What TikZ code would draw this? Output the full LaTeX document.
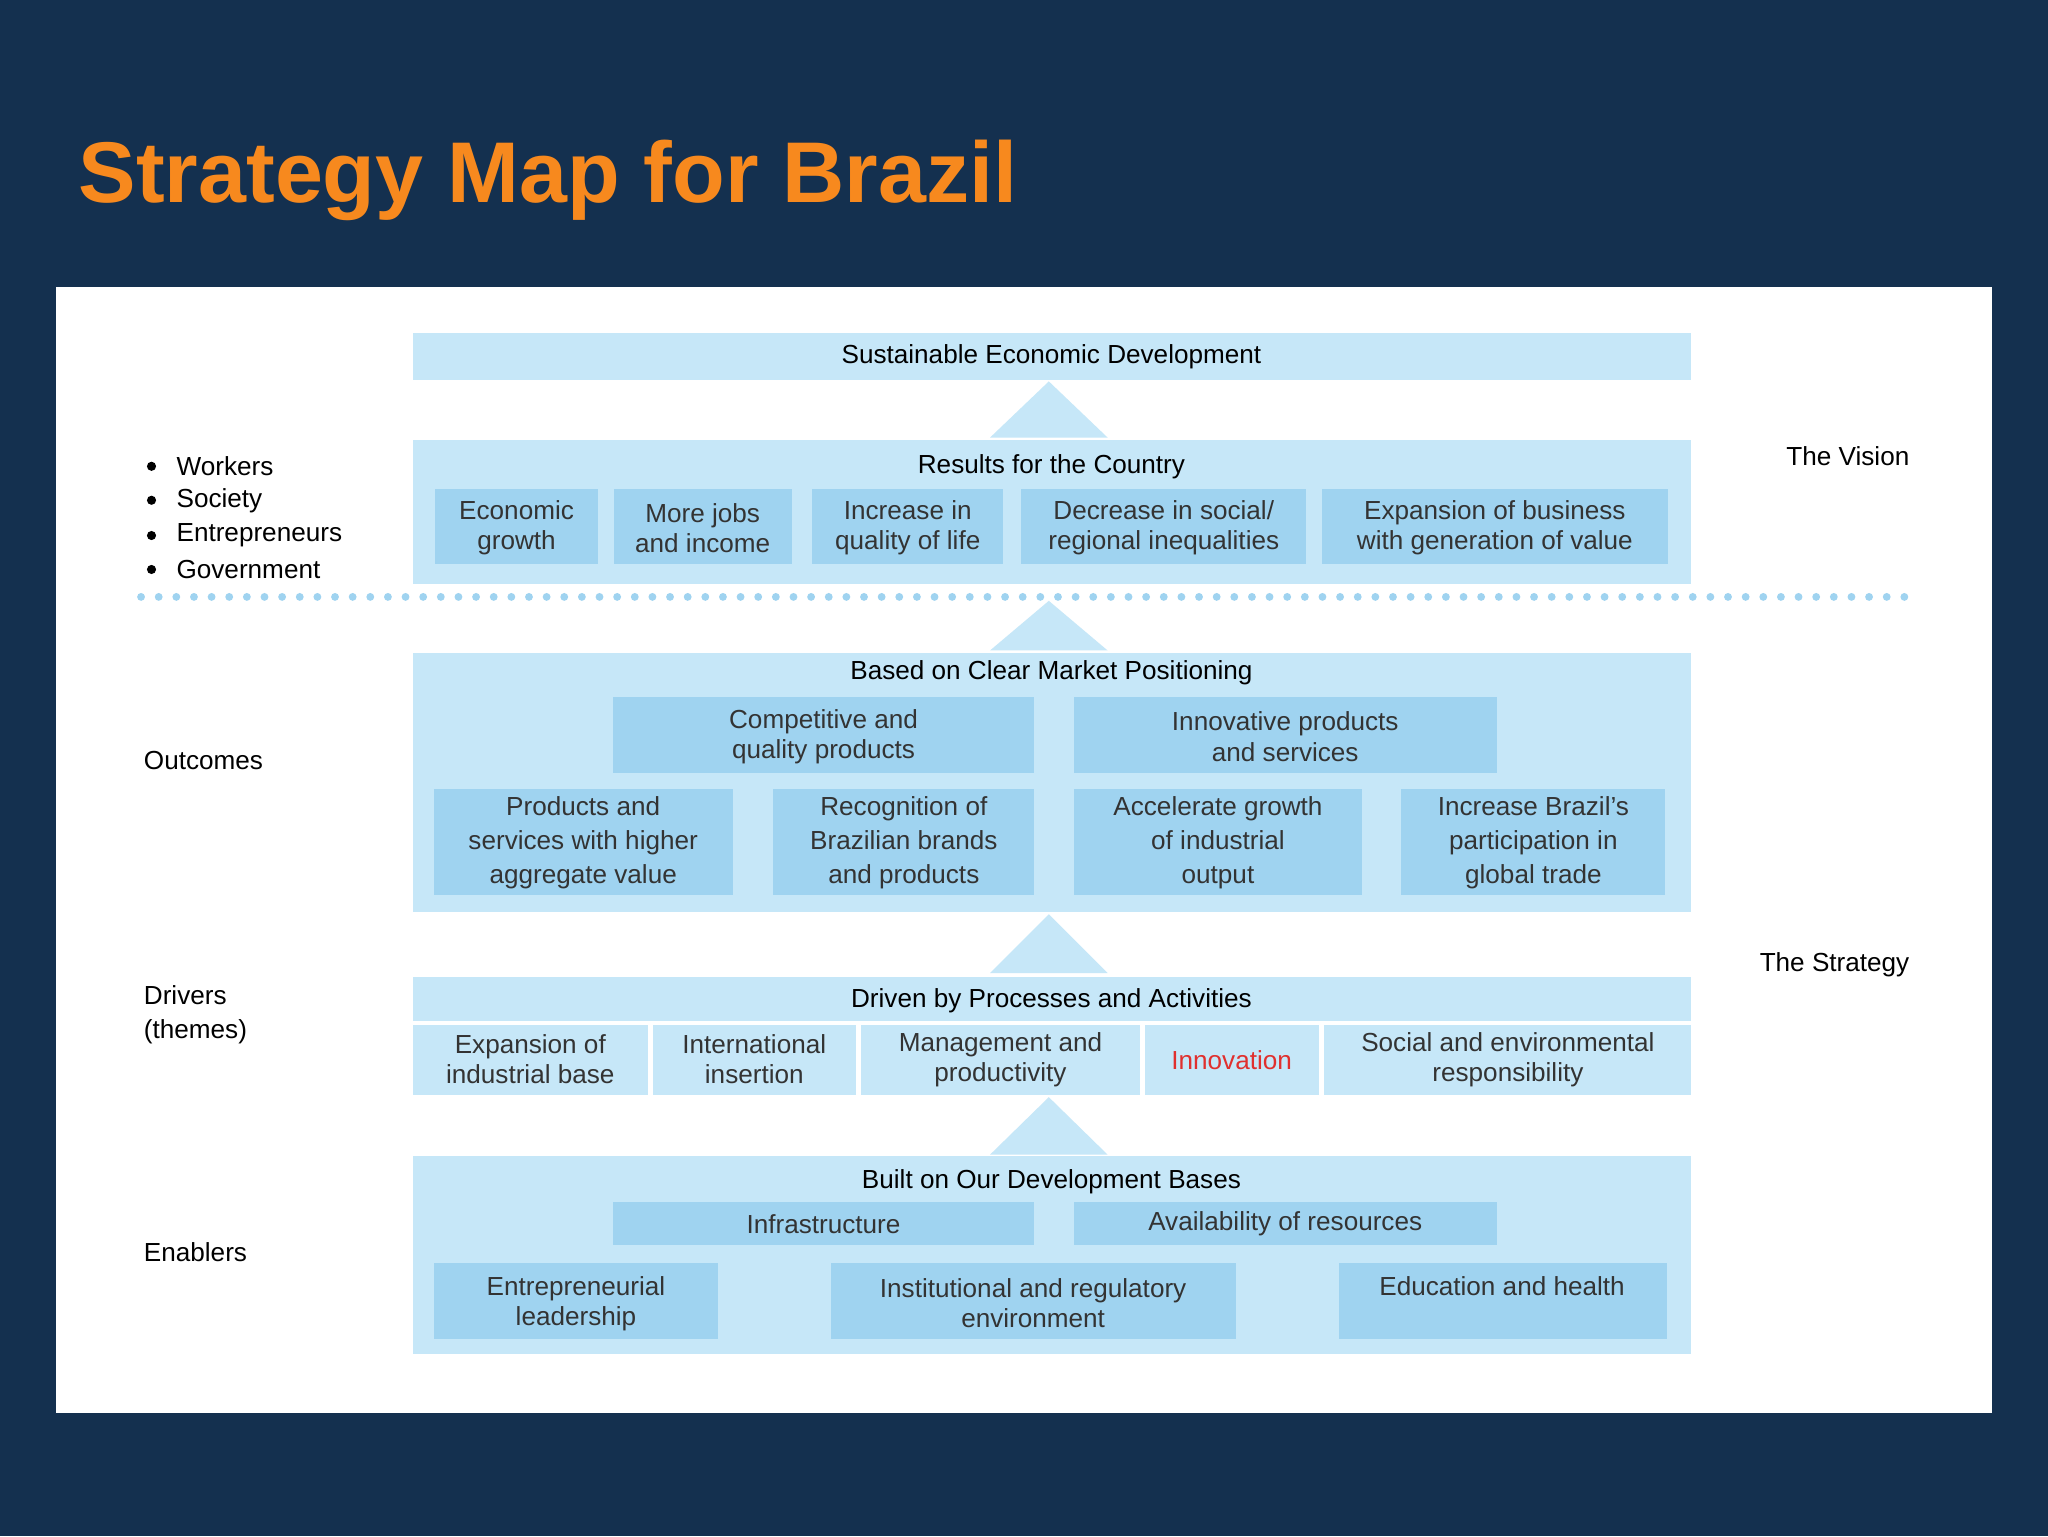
\documentclass[tikz,border=0pt]{standalone}
\usepackage{fontspec}
\setmainfont{Liberation Sans}
\definecolor{bg}{HTML}{14304F}
\definecolor{ttl}{HTML}{F7891E}
\definecolor{pan}{HTML}{C6E7F8}
\definecolor{inb}{HTML}{9FD3F0}
\definecolor{txt}{HTML}{333333}
\definecolor{red1}{HTML}{E0302E}
\begin{document}
\begin{tikzpicture}[x=1pt,y=-1pt,
  panel/.style={fill=pan,draw=none},
  cell/.style={fill=inb,draw=none},
  lbl/.style={font=\fontsize{20}{23}\selectfont,text=txt,align=center,inner sep=0},
  hd/.style={font=\fontsize{20}{23}\selectfont,text=black,inner sep=0},
  side/.style={font=\fontsize{20}{26}\selectfont,text=black,anchor=west,align=left,inner sep=0},
  uparrow/.style={fill=pan,draw=none}]
\useasboundingbox (0,0) rectangle (1568,1176);
\fill[bg] (0,0) rectangle (1568,1176);
\node[anchor=west,font=\fontsize{66}{70}\selectfont\bfseries,text=ttl,inner sep=0] (title) at (60,138) {Strategy Map for Brazil};
\fill[white] (43,220) rectangle (1525,1082);
% arrows
\foreach \t/\b in {292/335,460/498,700/745,840/884}{
  \fill[pan] (758,\b) -- (803,\t) -- (848,\b) -- cycle;}
% top bar
\fill[panel] (316,255) rectangle (1295,291);
\node[hd] (sed) at (805,273) {Sustainable Economic Development};
% results
\fill[panel] (316,337) rectangle (1295,447);
\node[hd] (res) at (805,357) {Results for the Country};
\foreach \a/\b/\n/\s in {333/458/r1/{Economic\\growth},470/606/r2/{More jobs\\and income},622/768/r3/{Increase in\\quality of life},782/1000/r4/{Decrease in social/\\regional inequalities},1012/1277/r5/{Expansion of business\\with generation of value}}{
  \fill[cell] (\a,374) rectangle (\b,432);
  \node[lbl] (\n) at ({(\a+\b)/2},404) {\s};}
% dotted line
\coordinate (dl) at (108,457); \coordinate (dr) at (1466,457);
\draw[inb,line width=6pt,line cap=round,dash pattern=on 0pt off 13.5pt] (dl) -- (dr);
% outcomes
\fill[panel] (316,500) rectangle (1295,698);
\node[hd] (bcm) at (805,515) {Based on Clear Market Positioning};
\foreach \a/\b/\n/\s in {469/792/o1/{Competitive and\\quality products},822/1146/o2/{Innovative products\\and services}}{
  \fill[cell] (\a,534) rectangle (\b,592);
  \node[lbl] (\n) at ({(\a+\b)/2},564) {\s};}
\foreach \a/\b/\n/\s in {332/561/o3/{Products and\\services with higher\\aggregate value},592/792/o4/{Recognition of\\Brazilian brands\\and products},822/1043/o5/{Accelerate growth\\of industrial\\output},1073/1275/o6/{Increase Brazil’s\\participation in\\global trade}}{
  \fill[cell] (\a,604) rectangle (\b,685);
  \node[lbl,font=\fontsize{20}{26}\selectfont] (\n) at ({(\a+\b)/2},645) {\s};}
% drivers
\fill[panel] (316,748) rectangle (1295,782);
\node[hd] (dbp) at (805,766) {Driven by Processes and Activities};
\foreach \a/\b/\n/\s in {316/496/d1/{Expansion of\\industrial base},500/655/d2/{International\\insertion},659/873/d3/{Management and\\productivity},1014/1295/d5/{Social and environmental\\responsibility}}{
  \fill[panel] (\a,785) rectangle (\b,838);
  \node[lbl] (\n) at ({(\a+\b)/2},811) {\s};}
\fill[panel] (877,785) rectangle (1010,838);
\node[lbl,text=red1] (d4) at (943,812) {Innovation};
% enablers
\fill[panel] (316,885) rectangle (1295,1037);
\node[hd] (bod) at (805,905) {Built on Our Development Bases};
\foreach \a/\b/\n/\s in {469/792/e1/{Infrastructure},822/1146/e2/{Availability of resources}}{
  \fill[cell] (\a,920) rectangle (\b,953);
  \node[lbl] (\n) at ({(\a+\b)/2},937) {\s};}
\fill[cell] (332,967) rectangle (550,1025);
\node[lbl] (e3) at (441,998) {Entrepreneurial\\leadership};
\fill[cell] (636,967) rectangle (946,1025);
\node[lbl] (e4) at (791,998) {Institutional and regulatory\\environment};
\fill[cell] (1025,967) rectangle (1276,1025);
\node[lbl] (e5) at (1150,985) {Education and health};
% side labels
\foreach \y/\s/\n in {357/Workers/s1,383/Society/s2,410/Entrepreneurs/s3,436/Government/s4}{
  \fill[black] (116,\y) circle (3.5);
  \node[side] (\n) at (135,\y) {\s};}
\node[side] (oc) at (110,582) {Outcomes};
\node[side] (dr2) at (110,777) {Drivers\\(themes)};
\node[side] (en) at (110,959) {Enablers};
\node[side,anchor=east] (vis) at (1462,349) {The Vision};
\node[side,anchor=east] (str) at (1462,739) {The Strategy};
\end{tikzpicture}
\end{document}
